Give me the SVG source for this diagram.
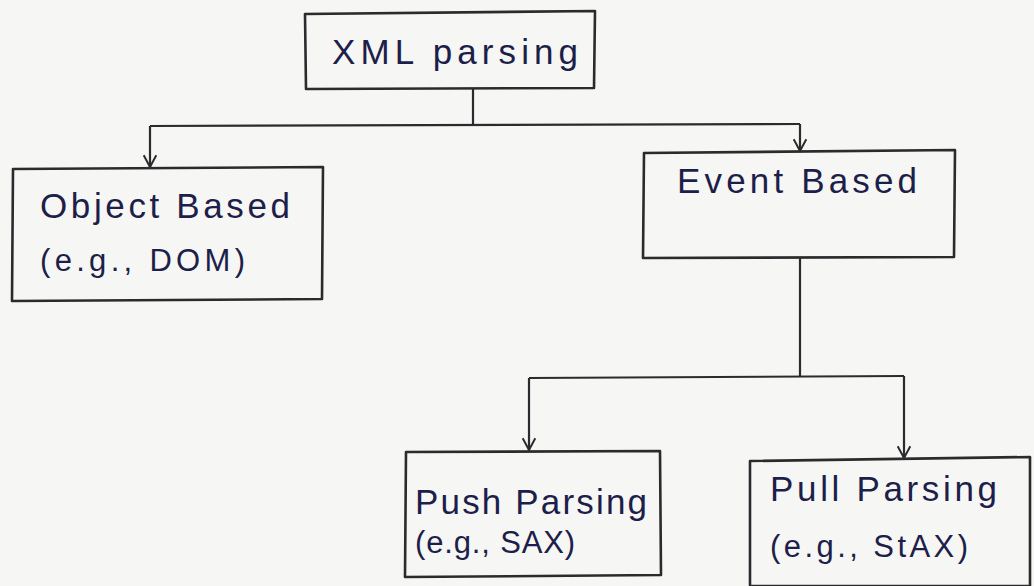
<svg xmlns="http://www.w3.org/2000/svg" width="1034" height="586" viewBox="0 0 1034 586">
  <style>
    .box { fill: none; stroke: #2b2b2e; stroke-width: 2.6; stroke-linejoin: round; }
    .wire { fill: none; stroke: #2b2b2e; stroke-width: 2.2; }
    .ink { font-family: "Liberation Sans", "DejaVu Sans", sans-serif; fill: #1d1f4a; }
    .big { font-size: 35px; }
    .small { font-size: 31px; }
  </style>
  <defs>
    <!-- open V arrowhead, tip at the line end -->
    <marker id="vee" viewBox="0 0 20 20" refX="18" refY="10" markerWidth="18" markerHeight="18" markerUnits="userSpaceOnUse" orient="auto">
      <path d="M5 3 L18 10 L5 17" fill="none" stroke="#2b2b2e" stroke-width="2.2"/>
    </marker>
  </defs>
  <rect width="1034" height="586" fill="#f6f6f4"/>

  <!-- connectors -->
  <g id="connectors">
    <path class="wire" d="M473 88 L473 125"/>
    <path class="wire" d="M150 126 L800 124"/>
    <path class="wire" d="M150 126 L150 167" marker-end="url(#vee)"/>
    <path class="wire" d="M800 124 L800 151" marker-end="url(#vee)"/>
    <path class="wire" d="M800 257 L800 377"/>
    <path class="wire" d="M529 378 L904 376"/>
    <path class="wire" d="M529 378 L529 450" marker-end="url(#vee)"/>
    <path class="wire" d="M904 376 L904 458" marker-end="url(#vee)"/>
  </g>

  <g id="xml-parsing">
    <path class="box" d="M305 14 L595 11 L594 88 L306 89 Z"/>
    <text class="ink big" x="332" y="64" textLength="246" lengthAdjust="spacing">XML parsing</text>
  </g>

  <g id="object-based">
    <path class="box" d="M13 169 L323 167 L322 299 L12 301 Z"/>
    <text class="ink big" x="40" y="218" textLength="250" lengthAdjust="spacing">Object Based</text>
    <text class="ink small" x="40" y="271" textLength="205" lengthAdjust="spacing">(e.g., DOM)</text>
  </g>

  <g id="event-based">
    <path class="box" d="M644 153 L955 150 L954 257 L643 258 Z"/>
    <text class="ink big" x="677" y="193" textLength="240" lengthAdjust="spacing">Event Based</text>
  </g>

  <g id="push-parsing">
    <path class="box" d="M406 452 L660 451 L661 575 L405 577 Z"/>
    <text class="ink big" x="415" y="514" textLength="232" lengthAdjust="spacing">Push Parsing</text>
    <text class="ink small" x="415" y="553" textLength="160" lengthAdjust="spacing">(e.g., SAX)</text>
  </g>

  <g id="pull-parsing">
    <path class="box" d="M750 461 L1030 457 L1030 586 L750 586 Z"/>
    <text class="ink big" x="770" y="501" textLength="227" lengthAdjust="spacing">Pull Parsing</text>
    <text class="ink small" x="770" y="557" textLength="198" lengthAdjust="spacing">(e.g., StAX)</text>
  </g>
</svg>
